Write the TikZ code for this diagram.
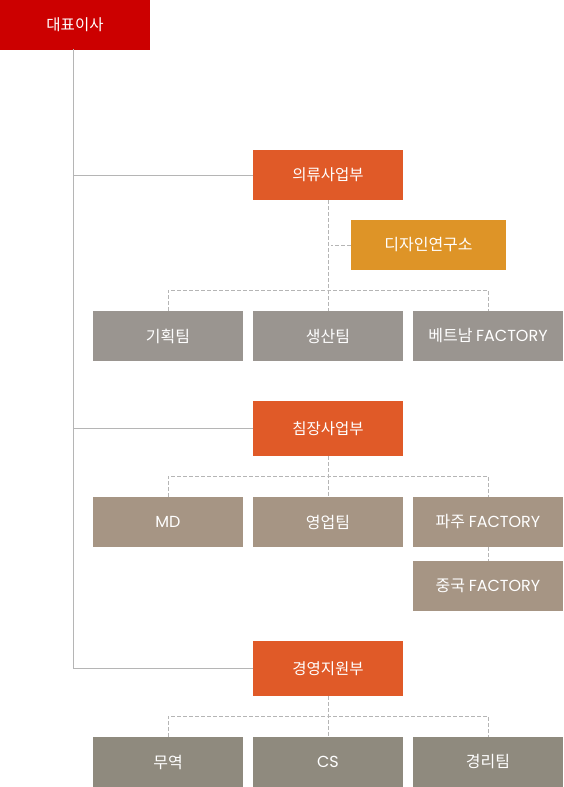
\documentclass[tikz,border=0pt]{standalone}
\usepackage{fontspec}
\setmainfont{Noto Sans CJK KR}
\newfontfamily\latinfont{Poppins}
\newcommand{\lat}[1]{{\latinfont #1}}
\definecolor{ceored}{HTML}{CC0000}
\definecolor{divorange}{HTML}{E05A28}
\definecolor{labgold}{HTML}{DE9427}
\definecolor{teamgray}{HTML}{9A9590}
\definecolor{teamtan}{HTML}{A69584}
\definecolor{teamolive}{HTML}{8F8A7E}
\definecolor{linegray}{HTML}{B5B5B5}
\begin{document}
\begin{tikzpicture}[
            x=1pt, y=-1pt,
            box/.style={rectangle, minimum width=150pt, minimum height=50pt, inner sep=0pt, text=white, font=\fontsize{16}{18}\selectfont, align=center},
            divbox/.style={box, fill=divorange, font=\fontsize{15.5}{18}\selectfont},
            solidline/.style={draw=linegray, line width=1pt},
            dline/.style={draw=linegray, line width=1pt, dash pattern=on 4pt off 2pt}
        ]
            \useasboundingbox (0,0) rectangle (563,787);

            % CEO
            \node[box, fill=ceored, font=\fontsize{15.5}{18}\selectfont] (ceo) at (75,24.5) {대표이사};
            \coordinate (spine) at (73,49);

            % Divisions
            \node[divbox] (clothing) at (328,175) {의류사업부};
            \node[divbox, minimum height=55pt] (bedding) at (328,428.5) {침장사업부};
            \node[divbox, minimum height=55pt] (support) at (328,668.5) {경영지원부};

            % Design lab
            \node[box, fill=labgold, minimum width=155pt] (lab) at (428.5,245) {디자인연구소};

            % Clothing teams
            \node[box, fill=teamgray] (planning) at (168,336) {기획팀};
            \node[box, fill=teamgray] (production) at (328,336) {생산팀};
            \node[box, fill=teamgray] (vietnam) at (488,336) {베트남 \lat{FACTORY}};

            % Bedding teams
            \node[box, fill=teamtan] (md) at (168,522) {\lat{MD}};
            \node[box, fill=teamtan] (sales) at (328,522) {영업팀};
            \node[box, fill=teamtan] (paju) at (488,522) {파주 \lat{FACTORY}};
            \node[box, fill=teamtan] (china) at (488,586) {중국 \lat{FACTORY}};

            % Support teams
            \node[box, fill=teamolive] (trade) at (168,762) {무역};
            \node[box, fill=teamolive] (cs) at (328,762) {\lat{CS}};
            \node[box, fill=teamolive] (accounting) at (488,762) {경리팀};

            % Bus coordinates
            \coordinate (busA) at (328,290);
            \coordinate (busB) at (328,476);
            \coordinate (busC) at (328,716);

            % Connections
            \draw[solidline] (spine) |- (support.west);
            \draw[solidline] (clothing.west) -- (clothing.west -| spine);
            \draw[solidline] (bedding.west) -- (bedding.west -| spine);

            \draw[dline] (clothing.south) -- (production.north);
            \draw[dline] (lab.west) -- ([xshift=3pt]lab.west -| clothing.south);
            \draw[dline] (planning.north) |- (busA) -| (vietnam.north);

            \draw[dline] (bedding.south) -- (sales.north);
            \draw[dline] (md.north) |- (busB) -| (paju.north);
            \draw[dline] (paju.south) -- (china.north);

            \draw[dline] (support.south) -- (cs.north);
            \draw[dline] (trade.north) |- (busC) -| (accounting.north);

        \end{tikzpicture}
\end{document}
